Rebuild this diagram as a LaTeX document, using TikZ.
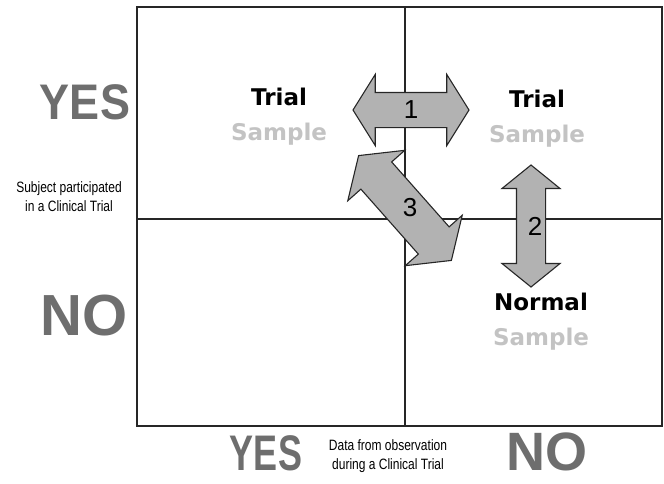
\documentclass[tikz,border=0pt]{standalone}
\usepackage{fontspec}
\setmainfont{Liberation Sans}
\newfontfamily\verd{DejaVu Sans}
\usetikzlibrary{shapes.arrows,positioning}
\definecolor{arrowgray}{RGB}{178,178,178}
\definecolor{wordgray}{RGB}{110,110,110}
\definecolor{smpgray}{RGB}{195,195,195}
\tikzset{
  grid/.style={draw=black!85, line width=1.1pt},
  dblarr/.style={double arrow, draw=black!85, line width=1.1pt, fill=arrowgray, inner xsep=0pt},
  num/.style={font=\fontsize{26}{26}\selectfont, inner sep=0pt},
  cell/.style={font=\verd\bfseries\fontsize{23}{23}\selectfont, inner sep=1pt},
  smp/.style={cell, text=smpgray},
  big/.style={font=\bfseries\fontsize{50}{50}\selectfont, text=wordgray, inner sep=0pt, anchor=base},
  axis/.style={font=\fontsize{15}{19}\selectfont, align=center, xscale=0.8}
}

\begin{document}
\begin{tikzpicture}[x=1pt, y=-1pt]
    \useasboundingbox (0,0) rectangle (664,483);
    % quadrants
    \coordinate (nw) at (137,7);
    \coordinate (se) at (662,426);
    \draw[grid] (nw) rectangle (se);
    \draw[grid] (405,7) -- (405,426);
    \draw[grid] (137,219) -- (662,219);

    % axis words
    \node[big, xscale=0.9] (yesL) at (85,119) {YES};
    \node[big, font=\bfseries\fontsize{58}{58}\selectfont] (noL) at (84,335) {NO};
    \node[big, xscale=0.72] (yesB) at (266,470) {YES};
    \node[big, font=\bfseries\fontsize{54}{54}\selectfont] (noB) at (547,470) {NO};
    \node[axis] (subj) at (69,197) {Subject participated\\in a Clinical Trial};
    \node[axis] (data) at (388,456) {Data from observation\\during a Clinical Trial};

    % cell labels
    \node[cell, anchor=base] (trialA) at (279,105) {Trial};
    \node[smp, below=15pt of trialA] (smpA) {Sample};
    \node[cell, anchor=base] (trialB) at (537,107) {Trial};
    \node[smp, below=15pt of trialB] (smpB) {Sample};
    \node[cell, anchor=base] (normal) at (541,310) {Normal};
    \node[smp, below=15pt of normal] (smpC) {Sample};

    % arrows
    \node[dblarr, minimum height=116pt, inner ysep=17pt, double arrow head extend=18pt,
      double arrow tip angle=116] (arrA) at (411,110) {};
    \node[dblarr, minimum height=122pt, inner ysep=14pt, double arrow head extend=14.5pt,
      double arrow tip angle=102, rotate=90] (arrB) at (531,226) {};
    \node[dblarr, minimum height=140pt, inner ysep=20pt, double arrow head extend=17.5pt,
      double arrow tip angle=110, rotate=-48.5] (arrC) at (405,208) {};
    \node[num] (numA) at (arrA) {1};
    \node[num] (numB) at ([xshift=4pt]arrB.center) {2};
    \node[num] (numC) at ([xshift=5pt]arrC.center) {3};
\end{tikzpicture}
\end{document}
